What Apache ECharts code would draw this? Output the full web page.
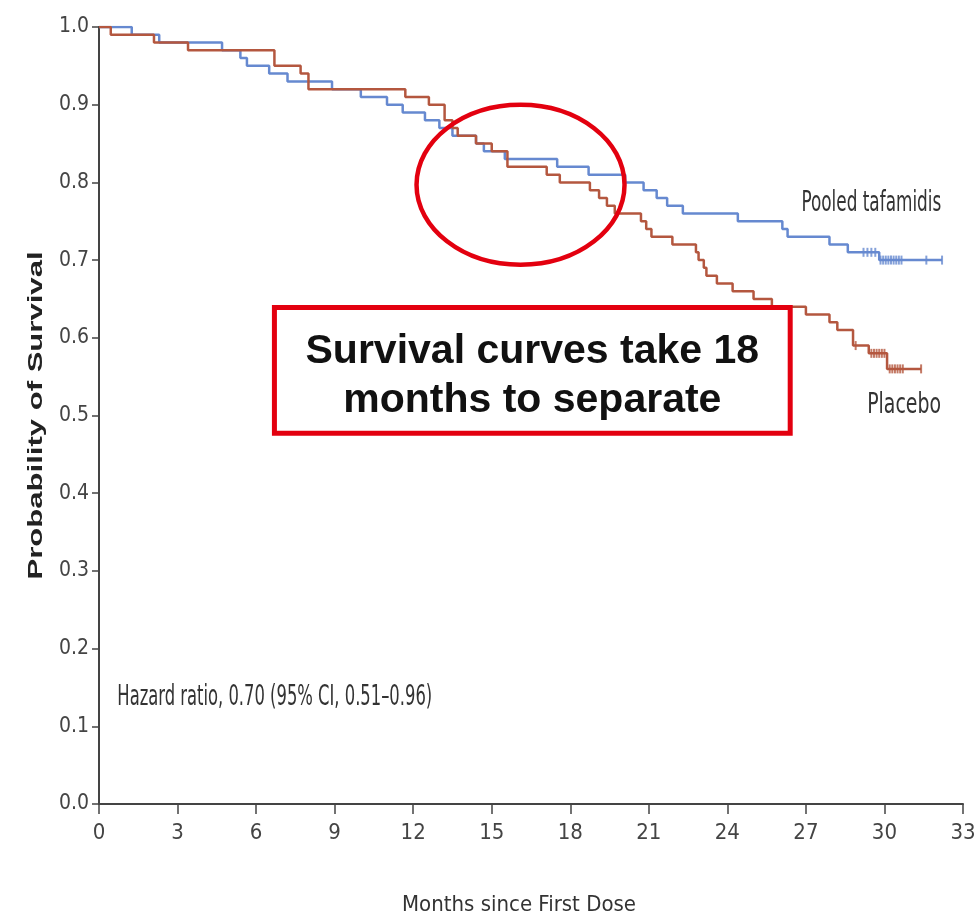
<!DOCTYPE html>
<html>
<head>
<meta charset="utf-8">
<script src="https://cdn.jsdelivr.net/npm/echarts@6/dist/echarts.min.js"></script>
<style>
  html, body { margin: 0; padding: 0; background: #fff; }
  #km-chart { width: 980px; height: 923px; }
</style>
</head>
<body>
<div id="km-chart"></div>
<script>
// Kaplan-Meier steps: month where the step starts, survival after it
const tafamidisMonths = [0, 1.25, 2.3, 4.7, 5.4, 5.65, 6.5, 7.2, 8.9, 10.0, 11.0, 11.6, 12.45, 13.0, 13.5, 14.4, 14.7, 15.5, 17.5, 18.7, 20.1, 20.8, 21.3, 21.7, 22.3, 24.4, 26.1, 26.3, 27.9, 28.6, 29.8, 32.2]
const tafamidisSurv = [1.00, 0.99, 0.98, 0.97, 0.96, 0.95, 0.94, 0.93, 0.92, 0.91, 0.90, 0.89, 0.88, 0.87, 0.86, 0.85, 0.84, 0.83, 0.82, 0.81, 0.80, 0.79, 0.78, 0.77, 0.76, 0.75, 0.74, 0.73, 0.72, 0.71, 0.70, 0.70]
const placeboMonths = [0, 0.45, 2.1, 3.4, 6.7, 7.7, 8.0, 11.7, 12.6, 13.2, 13.5, 13.7, 14.4, 15.0, 15.6, 17.1, 17.6, 18.75, 19.1, 19.4, 19.7, 20.7, 20.9, 21.1, 21.9, 22.8, 22.9, 23.1, 23.2, 23.6, 24.2, 25.0, 25.7, 27.0, 27.9, 28.2, 28.8, 29.4, 30.1, 31.4]
const placeboSurv = [1.00, 0.99, 0.98, 0.97, 0.95, 0.94, 0.92, 0.91, 0.90, 0.88, 0.87, 0.86, 0.85, 0.84, 0.82, 0.81, 0.80, 0.79, 0.78, 0.77, 0.76, 0.75, 0.74, 0.73, 0.72, 0.71, 0.70, 0.69, 0.68, 0.67, 0.66, 0.65, 0.64, 0.63, 0.62, 0.61, 0.59, 0.58, 0.56, 0.56]

// censored patients (tick marks on the curves)
const tafamidisCensored = [29.2, 29.35, 29.5, 29.65, 29.85, 29.95, 30.05, 30.15, 30.25, 30.35, 30.45, 30.55, 30.65, 31.6, 32.2]
const placeboCensored = [28.9, 29.5, 29.6, 29.7, 29.8, 29.9, 30.0, 30.2, 30.3, 30.4, 30.5, 30.6, 30.7, 31.4]

const xTicks = [0, 3, 6, 9, 12, 15, 18, 21, 24, 27, 30, 33]

const blue = '#6689d0'
const brown = '#b4573f'
const annotRed = '#e3000f'
const narrow = "'Liberation Sans Narrow', 'DejaVu Sans Condensed', sans-serif"
const arial = "'Liberation Sans', Arial, sans-serif"

function pairs (xs, ys) {
  return xs.map((x, i) => [x, ys[i]])
}

// survival value of a curve at month t (last step at or before t)
function survAt (xs, ys, t) {
  let v = ys[0]
  for (let i = 0; i < xs.length; i++) {
    if (xs[i] <= t) v = ys[i]
  }
  return v
}

const chartDom = document.getElementById('km-chart')
const chart = echarts.init(chartDom)

const option = {
  animation: false,
  grid: { left: 99, right: 17, top: 27, bottom: 119 },
  xAxis: {
    type: 'value',
    min: xTicks[0],
    max: xTicks[xTicks.length - 1],
    interval: 3,
    name: 'Months since First Dose',
    nameLocation: 'middle',
    nameGap: 90,
    nameTextStyle: { fontFamily: narrow, fontSize: 22, color: '#333', padding: [0, 24, 0, 0] },
    axisLine: { lineStyle: { color: '#444', width: 2 } },
    axisTick: { length: 10, lineStyle: { color: '#444', width: 1.5 } },
    axisLabel: { fontFamily: narrow, fontSize: 22, color: '#444', margin: 18 },
    splitLine: { show: false }
  },
  yAxis: {
    type: 'value',
    min: 0,
    max: 1,
    interval: 0.1,
    axisLine: { show: true, lineStyle: { color: '#444', width: 2 } },
    axisTick: { show: true, length: 7, lineStyle: { color: '#444', width: 1.5 } },
    axisLabel: {
      fontFamily: narrow,
      fontSize: 21,
      color: '#444',
      margin: 10,
      formatter: v => v.toFixed(1)
    },
    splitLine: { show: false }
  },
  series: [
    {
      name: 'Pooled tafamidis',
      type: 'line',
      step: 'end',
      symbol: 'none',
      data: pairs(tafamidisMonths, tafamidisSurv),
      lineStyle: { color: blue, width: 2.5 }
    },
    {
      name: 'Placebo',
      type: 'line',
      step: 'end',
      symbol: 'none',
      data: pairs(placeboMonths, placeboSurv),
      lineStyle: { color: brown, width: 2.5 }
    },
    {
      type: 'scatter',
      symbol: 'rect',
      symbolSize: [2, 9],
      itemStyle: { color: blue },
      data: tafamidisCensored.map(t => [t, survAt(tafamidisMonths, tafamidisSurv, t)])
    },
    {
      type: 'scatter',
      symbol: 'rect',
      symbolSize: [2, 9],
      itemStyle: { color: brown },
      data: placeboCensored.map(t => [t, survAt(placeboMonths, placeboSurv, t)])
    }
  ]
}
chart.setOption(option)

// annotations placed from data coordinates
const p = (x, y) => chart.convertToPixel({ gridIndex: 0 }, [x, y])
const circleC = p(16.1, 0.797)
const boxTL = p(6.7, 0.639)
const boxBR = p(26.4, 0.477)
const tafLabel = p(29.5, 0.772)
const plaLabel = p(30.75, 0.513)
const hrLabel = p(0.7, 0.137)
const yTitle = p(-2.38, 0.5)

// the figure's own labels are a tall condensed face, so they are squeezed sideways
const condensedText = (pos, text, scaleX, align) => ({
  type: 'text',
  x: pos[0],
  y: pos[1],
  scaleX: scaleX,
  style: { text: text, fontFamily: narrow, fontSize: 28, fill: '#333', align: align, verticalAlign: 'middle' },
  z: 11
})

chart.setOption({
  graphic: [
    {
      type: 'ellipse',
      shape: { cx: circleC[0], cy: circleC[1], rx: 104, ry: 80 },
      style: { fill: 'none', stroke: annotRed, lineWidth: 4.5 },
      z: 10
    },
    {
      type: 'rect',
      shape: { x: boxTL[0], y: boxTL[1], width: boxBR[0] - boxTL[0], height: boxBR[1] - boxTL[1] },
      style: { fill: '#fff', stroke: annotRed, lineWidth: 5 },
      z: 10
    },
    {
      type: 'text',
      x: (boxTL[0] + boxBR[0]) / 2,
      y: (boxTL[1] + boxBR[1]) / 2 + 6,
      style: {
        text: 'Survival curves take 18\nmonths to separate',
        fontFamily: arial,
        fontWeight: 'bold',
        fontSize: 41,
        lineHeight: 49,
        fill: '#111',
        align: 'center',
        verticalAlign: 'middle'
      },
      z: 11
    },
    // y axis title, stretched along its length like the source figure
    {
      type: 'text',
      x: yTitle[0],
      y: yTitle[1],
      rotation: Math.PI / 2,
      scaleX: 1.48,
      style: {
        text: 'Probability of Survival',
        fontFamily: arial,
        fontWeight: 'bold',
        fontSize: 21,
        fill: '#222',
        align: 'center',
        verticalAlign: 'middle'
      },
      z: 11
    },
    condensedText(tafLabel, 'Pooled tafamidis', 0.67, 'center'),
    condensedText(plaLabel, 'Placebo', 0.75, 'center'),
    condensedText(hrLabel, 'Hazard ratio, 0.70 (95% CI, 0.51–0.96)', 0.65, 'left')
  ]
})
</script>
</body>
</html>
